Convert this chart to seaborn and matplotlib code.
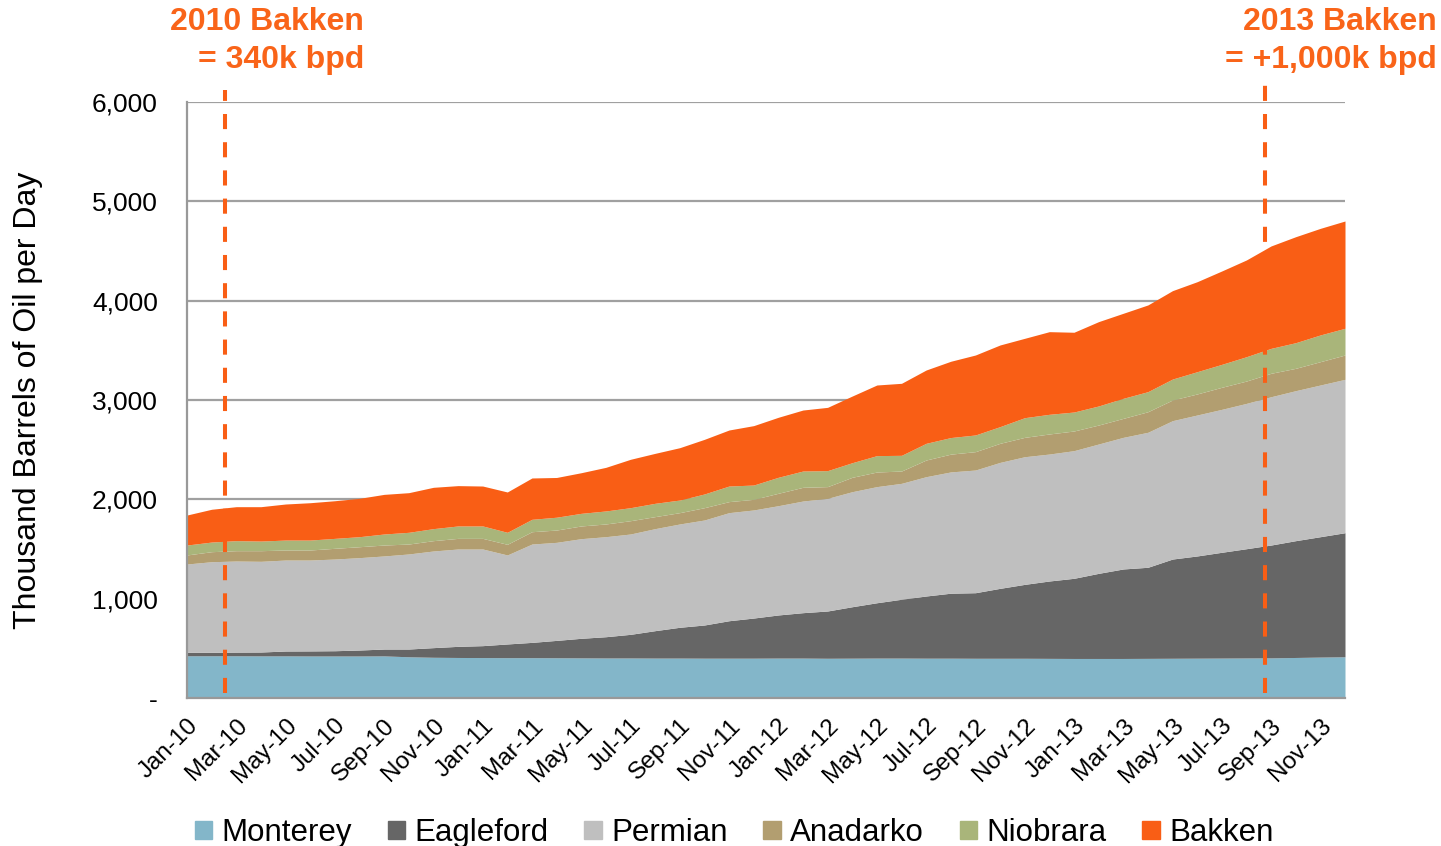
import numpy as np
import matplotlib
matplotlib.use("Agg")
import matplotlib.pyplot as plt
import seaborn as sns

# ---- data (thousand barrels of oil per day) ----
months = [f"{m}-{y}" for y in ["10", "11", "12", "13"]
          for m in ["Jan", "Feb", "Mar", "Apr", "May", "Jun",
                    "Jul", "Aug", "Sep", "Oct", "Nov", "Dec"]]

series_names = ["Monterey", "Eagleford", "Permian", "Anadarko", "Niobrara", "Bakken"]

monterey = [425, 425, 425, 424, 424, 423, 423, 423, 424, 415, 410, 408,
            407, 406, 406, 405, 404, 403, 403, 402, 402, 401, 401, 401,
            402, 402, 400, 401, 402, 402, 401, 401, 400, 400, 400, 399,
            398, 398, 398, 399, 400, 401, 402, 403, 404, 408, 412, 415]
eagleford = [35, 35, 37, 39, 49, 51, 53, 60, 69, 78, 97, 112,
             120, 138, 154, 175, 197, 214, 238, 276, 310, 334, 377, 404,
             434, 457, 476, 518, 557, 592, 626, 654, 660, 704, 744, 779,
             807, 857, 901, 917, 999, 1029, 1065, 1100, 1136, 1176, 1212, 1249]
permian = [889, 912, 917, 913, 916, 915, 923, 930, 937, 957, 973, 980,
           973, 896, 990, 987, 1003, 1007, 1010, 1027, 1040, 1057, 1088, 1088,
           1100, 1124, 1134, 1158, 1169, 1167, 1201, 1221, 1235, 1268, 1285, 1278,
           1285, 1302, 1325, 1359, 1393, 1419, 1439, 1463, 1493, 1510, 1527, 1544]
anadarko = [91, 101, 104, 107, 101, 101, 108, 110, 110, 100, 104, 107,
            107, 107, 124, 124, 128, 128, 134, 121, 114, 124, 111, 107,
            125, 138, 118, 145, 147, 124, 168, 179, 185, 192, 195, 202,
            198, 191, 191, 207, 208, 212, 222, 225, 236, 225, 235, 245]
niobrara = [100, 97, 101, 97, 100, 100, 100, 101, 111, 118, 121, 125,
            125, 121, 125, 129, 127, 131, 131, 134, 127, 138, 157, 144,
            161, 164, 161, 147, 165, 158, 168, 167, 168, 168, 198, 198,
            191, 192, 202, 202, 211, 224, 231, 245, 251, 258, 269, 269]
bakken = [302, 330, 342, 346, 363, 376, 379, 386, 399, 399, 416, 406,
          402, 406, 416, 400, 409, 439, 487, 503, 527, 550, 564, 598,
          604, 614, 637, 671, 711, 725, 738, 768, 805, 822, 799, 832,
          803, 849, 856, 873, 890, 906, 940, 974, 1031, 1067, 1073, 1080]

y_ticks = [0, 1000, 2000, 3000, 4000, 5000, 6000]
y_tick_labels = ["-", "1,000", "2,000", "3,000", "4,000", "5,000", "6,000"]

annot_left = ["2010 Bakken", "= 340k bpd"]
annot_right = ["2013 Bakken", "= +1,000k bpd"]

colors = ["#83B6C9", "#666666", "#BFBFBF", "#B29E70", "#A9B57A", "#F95E15"]
orange_text = "#F96419"

# ---- style ----
sns.set_theme(style="white")
plt.rcParams["font.family"] = ["Liberation Sans", "DejaVu Sans"]
plt.rcParams["text.color"] = "black"
plt.rcParams["axes.labelcolor"] = "black"
plt.rcParams["xtick.color"] = "black"
plt.rcParams["ytick.color"] = "black"

fig = plt.figure(figsize=(14.41, 8.46), dpi=100)
ax = fig.add_axes([187 / 1441, 1 - 698 / 846, (1345 - 187) / 1441, (698 - 102) / 846])

x = np.arange(len(months))
ax.stackplot(x, monterey, eagleford, permian, anadarko, niobrara, bakken,
             colors=colors, labels=series_names, linewidth=0, zorder=2)

ax.set_xlim(0, len(months) - 1)
ax.set_ylim(0, 6000)

# gridlines
ax.set_yticks(y_ticks)
ax.set_yticklabels(y_tick_labels, fontsize=19, color="black")
ax.yaxis.grid(True, color="#A0A0A0", linewidth=1.6, zorder=1)
ax.xaxis.grid(False)
ax.set_axisbelow(True)

sns.despine(ax=ax, top=True, right=True)
for side in ["left", "bottom"]:
    ax.spines[side].set_color("#999999")
    ax.spines[side].set_linewidth(1.6)
    ax.spines[side].set_zorder(3)

ax.set_xticks(x[::2])
ax.set_xticklabels(months[::2], rotation=45, ha="right", va="top",
                   rotation_mode="anchor", fontsize=17.5, color="black")
ax.tick_params(axis="x", length=0, pad=12)
ax.tick_params(axis="y", length=0, pad=21)

ax.set_ylabel("Thousand Barrels of Oil per Day", fontsize=23, color="black")
ax.yaxis.set_label_coords(-(187 - 28) / 1158, 0.5)
ax.yaxis.label.set_verticalalignment("center")

# dashed marker lines
for xpos, ytop in [(1.55, 6125), (43.75, 6170)]:
    ax.plot([xpos, xpos], [50, ytop], color="#F95E15", linewidth=2.9,
            dashes=(3.75, 3.25), clip_on=False, zorder=5)

# annotations
for xr, lines in [(364, annot_left), (1437, annot_right)]:
    fig.text(xr / 1441, 1 - 22 / 846, lines[0], ha="right", va="center",
             fontsize=23, fontweight="bold", color=orange_text)
    fig.text(xr / 1441, 1 - 60 / 846, lines[1], ha="right", va="center",
             fontsize=23, fontweight="bold", color=orange_text)

# legend
handles = [plt.Rectangle((0, 0), 1, 1, color=c) for c in colors]
leg = fig.legend(handles, series_names, loc="center", ncol=6,
                 bbox_to_anchor=(734 / 1441, 1 - 833 / 846),
                 frameon=False, fontsize=22.5, handlelength=0.55, handleheight=0.55,
                 handletextpad=0.3, columnspacing=1.15, borderaxespad=0)
for t in leg.get_texts():
    t.set_color("black")

fig.savefig("out.png", dpi=100, facecolor="white")
